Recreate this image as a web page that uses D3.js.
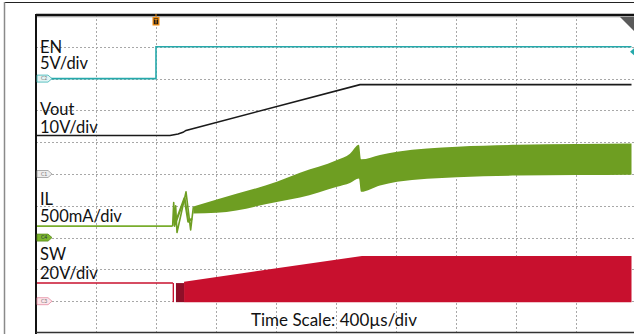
<!DOCTYPE html>
<html>
<head>
<meta charset="utf-8">
<script src="https://cdn.jsdelivr.net/npm/d3@7"></script>
<style>
  html, body { margin: 0; padding: 0; background: #fff; }
  svg { display: block; }
  text { font-family: Lato, "Open Sans", sans-serif; fill: #111; }
</style>
</head>
<body>
<svg id="scope" width="634" height="334"></svg>
<script>
// ---- time base (µs) and vertical divisions ----
const timeGrid = [-800, -400, 0, 400, 800, 1200, 1600, 2000, 2400, 2800, 3200];
const divGrid = [5, 4, 3, 2, 1, 0, -1, -2, -3, -4, -5];

// channel settings: ground offset (div) and scale per division
const channelNames = ["EN", "Vout", "IL", "SW"];
const channelScales = ["5V/div", "10V/div", "500mA/div", "20V/div"];
const channelOffsets = [3, 0, -2, -4];
const channelPerDiv = [5, 10, 0.5, 20];
const channelIds = ["C2", "C1", "C4", "C3"];

// EN (V)
const enTrace = [[-800, 0], [0, 0], [0, 5], [3170, 5]];
// Vout (V)
const voutTrace = [[-800, 12.1], [93, 12.1], [147, 12.6], [180, 13.1], [200, 13.7], [1360, 28.1], [3170, 28.1]];
// IL (A): idle level, start-up ringing, switching envelope [t, high, low]
const ilIdle = [[-800, 0.18], [111, 0.18]];
const ilRingA = [[111, 0.18], [118, 0.55], [124, 0.18], [131, 0.5], [140, 0.08], [200, 0.72], [231, 0.12], [249, 0.48]];
const ilRingB = [[124, 0.2], [140, 0.3], [190, 0.62], [215, 0.25], [240, 0.3]];
const ilBand = [
  [249, 0.49, 0.38], [405, 0.60, 0.39], [805, 0.88, 0.56], [960, 1.02, 0.63],
  [1207, 1.22, 0.80], [1293, 1.32, 0.86], [1353, 1.46, 0.93], [1367, 1.23, 0.72],
  [1493, 1.30, 0.82], [1607, 1.35, 0.88], [2007, 1.43, 0.95], [2407, 1.46, 0.975],
  [2807, 1.47, 0.985], [3170, 1.48, 0.99]
];
// SW (V): idle level, first pulses [t0, t1], switching envelope [t, high, low]
const swIdle = [[-800, 11.4], [113, 11.4]];
const swPulses = [[111, 120], [133, 187]];
const swBand = [[187, 12.3, -0.6], [1373, 28.4, -0.6], [3170, 28.4, -0.6]];

const W = 634, H = 334;
const plot = { left: 36, right: 636, top: 15, bottom: 333 };

const svg = d3.select("#scope");
const x = d3.scaleLinear().domain([-800, 3200]).range([plot.left, plot.right]);
const yDiv = d3.scaleLinear().domain([5, -5]).range([plot.top, plot.bottom]);
const yCh = i => v => yDiv(channelOffsets[i] + v / channelPerDiv[i]);
const yEN = yCh(0), yVout = yCh(1), yIL = yCh(2), ySW = yCh(3);

// outer frame
svg.append("line").attr("x1", 4).attr("x2", W).attr("y1", 2.5).attr("y2", 2.5)
  .attr("stroke", "#222").attr("stroke-width", 1);
svg.append("line").attr("x1", 4.5).attr("x2", 4.5).attr("y1", 2).attr("y2", H)
  .attr("stroke", "#8a8a8a").attr("stroke-width", 1.5);

svg.append("defs").append("clipPath").attr("id", "plotClip")
  .append("rect").attr("x", plot.left).attr("y", plot.top)
  .attr("width", W - plot.left).attr("height", plot.bottom - plot.top);

const g = svg.append("g").attr("clip-path", "url(#plotClip)");

// graticule
g.append("g").selectAll("line").data(timeGrid.slice(1, -1)).join("line")
  .attr("x1", d => x(d) + 0.5).attr("x2", d => x(d) + 0.5)
  .attr("y1", plot.top).attr("y2", plot.bottom)
  .attr("stroke", "#a8a8a8").attr("stroke-width", 1).attr("stroke-dasharray", "2,2");
g.append("g").selectAll("line").data(divGrid.slice(1, -1)).join("line")
  .attr("x1", plot.left).attr("x2", W)
  .attr("y1", d => Math.round(yDiv(d)) + 0.5).attr("y2", d => Math.round(yDiv(d)) + 0.5)
  .attr("stroke", "#a8a8a8").attr("stroke-width", 1).attr("stroke-dasharray", "2,2");

const line = ys => d3.line().x(d => x(d[0])).y(d => ys(d[1]));
const band = (ys, curve) => d3.area().curve(curve || d3.curveLinear)
  .x(d => x(d[0])).y0(d => ys(d[2])).y1(d => ys(d[1]));

// SW (red)
const swRed = "#c8102e";
g.append("path").attr("d", band(ySW)(swBand)).attr("fill", swRed);
g.append("path").attr("d", line(ySW)(swIdle)).attr("fill", "none")
  .attr("stroke", swRed).attr("stroke-width", 1.6);
g.selectAll("rect.swp").data(swPulses).join("rect").attr("class", "swp")
  .attr("x", d => x(d[0])).attr("width", d => x(d[1]) - x(d[0]))
  .attr("y", ySW(11.4)).attr("height", ySW(-0.6) - ySW(11.4))
  .attr("fill", (d, i) => i === 0 ? swRed : "#8f0f28");

// IL (green)
const ilGreen = "#6e9e22";
g.append("path").attr("d", band(yIL, d3.curveMonotoneX)(ilBand)).attr("fill", ilGreen);
g.append("path").attr("d", line(yIL)(ilIdle)).attr("fill", "none")
  .attr("stroke", "#79ad2c").attr("stroke-width", 1.6);
g.append("path").attr("d", line(yIL)(ilRingA)).attr("fill", "none")
  .attr("stroke", ilGreen).attr("stroke-width", 1.6).attr("stroke-linejoin", "round");
g.append("path").attr("d", line(yIL)(ilRingB)).attr("fill", "none")
  .attr("stroke", ilGreen).attr("stroke-width", 2.2).attr("stroke-linejoin", "round");

// Vout (black)
g.append("path").attr("d", line(yVout)(voutTrace)).attr("fill", "none")
  .attr("stroke", "#1a1a1a").attr("stroke-width", 1.6);

// EN (cyan)
g.append("path").attr("d", line(yEN)(enTrace)).attr("fill", "none")
  .attr("stroke", "#25a9ab").attr("stroke-width", 1.6);

// plot border
svg.append("line").attr("x1", plot.left).attr("x2", W).attr("y1", plot.top).attr("y2", plot.top)
  .attr("stroke", "#111").attr("stroke-width", 2.5);
svg.append("line").attr("x1", plot.left).attr("x2", W).attr("y1", plot.top + 1.8).attr("y2", plot.top + 1.8)
  .attr("stroke", "#9a9a9a").attr("stroke-width", 1);
svg.append("line").attr("x1", plot.left).attr("x2", plot.left).attr("y1", plot.top - 1).attr("y2", H)
  .attr("stroke", "#111").attr("stroke-width", 2);
svg.append("line").attr("x1", plot.left).attr("x2", W).attr("y1", 332.5).attr("y2", 332.5)
  .attr("stroke", "#333").attr("stroke-width", 1.5);

// channel ground markers
const markerFill = ["#e3f5f5", "#eeeeee", "#7cb52c", "#fde6eb"];
const markerStroke = ["#38b4b4", "#9a9a9a", "#5b8c1c", "#e48aa0"];
const mk = svg.append("g");
channelIds.forEach((id, i) => {
  const c = yDiv(channelOffsets[i]);
  mk.append("path")
    .attr("d", `M37,${c - 3.5}H48L52,${c}L48,${c + 3.5}H37Z`)
    .attr("fill", markerFill[i]).attr("stroke", markerStroke[i]).attr("stroke-width", 0.8);
  mk.append("text").attr("x", 41).attr("y", c + 1.8).text(id)
    .style("font-size", "5px").style("fill", i === 2 ? "#234" : "#777");
});

// EN level arrow at the right edge
svg.append("path").attr("d", `M630,${yEN(5) + 5}L634,${yEN(5) + 1.5}V${yEN(5) + 8.5}Z`)
  .attr("fill", "#25a9ab");
// corner indicator
svg.append("path").attr("d", "M620,17H634V31Z").attr("fill", "#5a5a5a");

// trigger marker
const tx = x(0);
svg.append("rect").attr("x", tx - 3.5).attr("y", 17).attr("width", 7).attr("height", 8.5)
  .attr("fill", "#f08c10");
svg.append("rect").attr("x", tx - 2.2).attr("y", 18.3).attr("width", 4.4).attr("height", 5.9)
  .attr("fill", "#1a1a1a");
svg.append("path").attr("d", `M${tx - 1.6},19.4H${tx + 1.6}M${tx},19.4V23.6`)
  .attr("stroke", "#f08c10").attr("stroke-width", 1);
svg.append("line").attr("x1", tx).attr("x2", tx).attr("y1", 14).attr("y2", 17)
  .attr("stroke", "#f08c10").attr("stroke-width", 1);

// channel labels
const labelY = [[52.7, 69.3], [115, 133.3], [205, 221.7], [260, 279.3]];
const lab = svg.append("g").style("font-size", "16.5px");
channelNames.forEach((n, i) => {
  lab.append("text").attr("x", 40).attr("y", labelY[i][0]).text(n);
  lab.append("text").attr("x", 40).attr("y", labelY[i][1]).text(channelScales[i]);
});

svg.append("text").attr("x", 251).attr("y", 325.5).style("font-size", "17px")
  .text("Time Scale: 400µs/div");
</script>
</body>
</html>
